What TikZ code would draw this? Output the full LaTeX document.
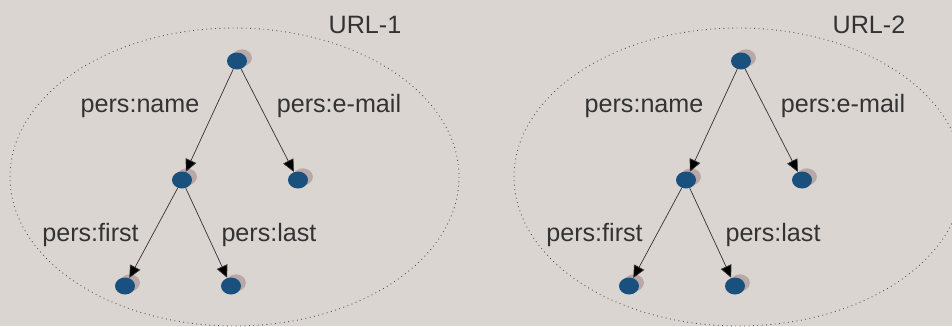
\documentclass[tikz,border=0pt]{standalone}
\usepackage{fontspec}
\setmainfont{Liberation Sans}
\usetikzlibrary{shapes.geometric}
\usetikzlibrary{shadows}
\usetikzlibrary{arrows.meta}
\definecolor{bgpaper}{RGB}{219,213,210}
\definecolor{dotblue}{RGB}{26,80,125}
\definecolor{dotshade}{RGB}{184,168,168}
\definecolor{inkgray}{RGB}{51,51,51}
\tikzset{
line width=0.75pt, % All lines a bit heavier
>={Triangle[length=7pt,width=6.5pt]}, % All arrows with a triangle tip
res/.style={ellipse,fill=dotblue,minimum width=0.4cm,minimum height=0.34cm,inner sep=0pt,
  general shadow={shadow xshift=2.8pt,shadow yshift=1.8pt,fill=dotshade}},
prop/.style={text=inkgray,font=\fontsize{14.3}{16}\selectfont,inner sep=0pt,anchor=base},
arc/.style={->,draw=inkgray},
region/.style={dotted,draw=inkgray!85,line width=0.5pt}
}
\begin{document}
\begin{tikzpicture}[x=0.02cm,y=-0.02cm]
\fill[bgpaper] (0,0) rectangle (952,326);
\clip (0,0) rectangle (952,326);

\foreach \n/\dx in {1/0,2/504}{
\begin{scope}[shift={(\dx,0)}]
\draw[region] (234.5,177) ellipse [x radius=224.5,y radius=149];
\node[prop] (url\n) at (365,33) {URL-\n};

\node[res] (r\n) at (237,61)  {};
\node[res] (m\n) at (182,180) {};
\node[res] (e\n) at (298,180) {};
\node[res] (f\n) at (125,286) {};
\node[res] (l\n) at (231,286) {};

\path[arc] (r\n) edge (m\n)
                 edge (e\n)
           (m\n) edge (f\n)
                 edge (l\n);

\node[prop] (pn\n) at (140,112)   {pers:name};
\node[prop] (pe\n) at (339,112)   {pers:e-mail};
\node[prop] (pf\n) at (90.5,241)  {pers:first};
\node[prop] (pl\n) at (269,241)   {pers:last};
\end{scope}
}
\end{tikzpicture}
\end{document}
